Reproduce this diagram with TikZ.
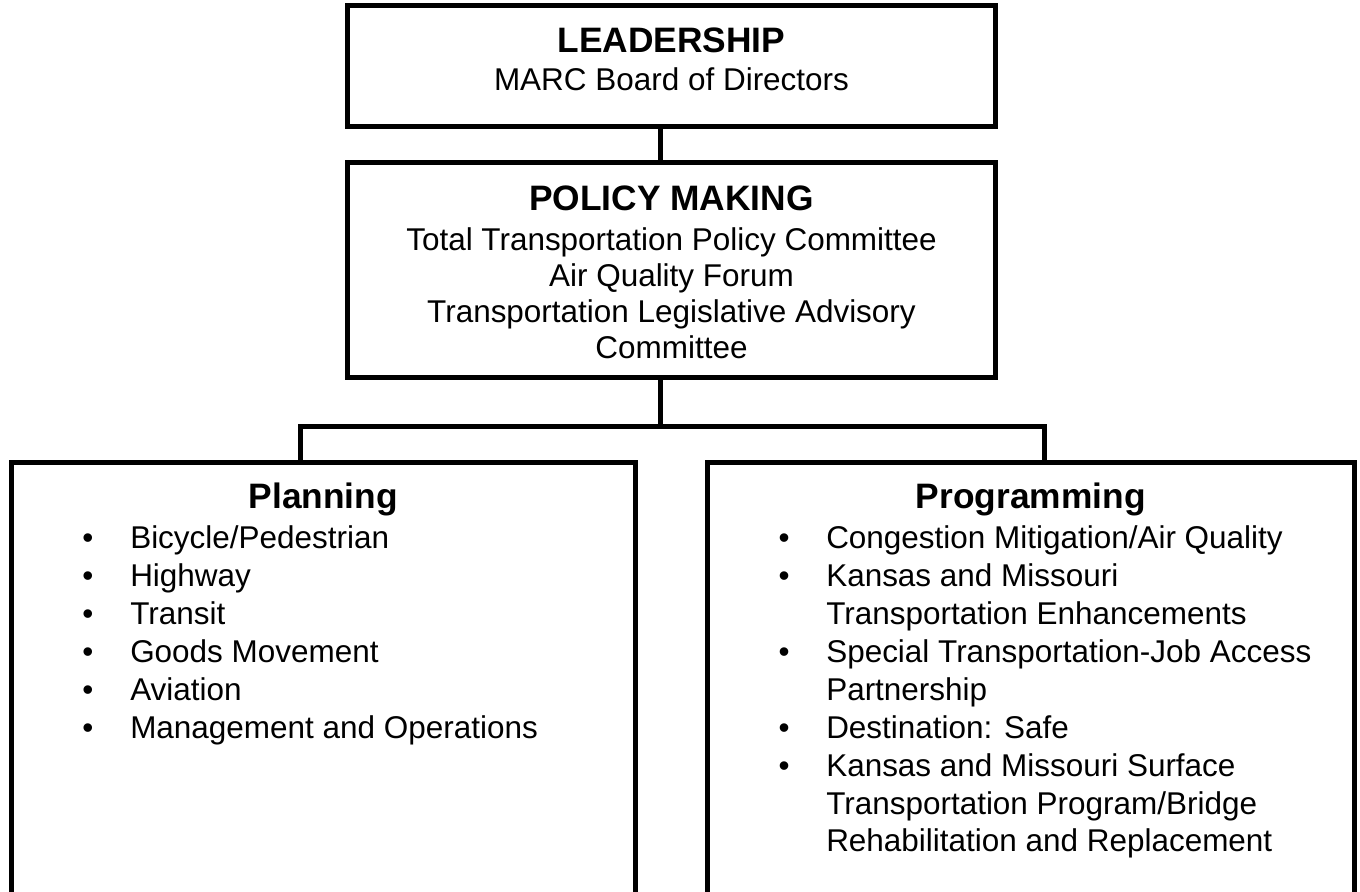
\documentclass[tikz,border=0pt]{standalone}
\usepackage{fontspec}
\setmainfont{Liberation Sans}
\begin{document}
\begin{tikzpicture}[x=0.75pt,y=-0.75pt,
  box/.style={draw=black,line width=3.75pt,rectangle,inner sep=0pt,fill=white},
  conn/.style={draw=black,line width=3.75pt,line join=miter},
  head/.style={font=\fontsize{26.5}{32}\selectfont\bfseries,anchor=base,inner sep=0pt},
  body/.style={font=\fontsize{23.6}{28}\selectfont,anchor=base,inner sep=0pt},
  item/.style={font=\fontsize{23.6}{28}\selectfont,anchor=base west,inner sep=0pt},
  bul/.style={font=\fontsize{23.6}{28}\selectfont,anchor=base,inner sep=0pt}]
\clip (0,0) rectangle (1360,892);
\fill[white] (0,0) rectangle (1360,892);

% boxes
\node[box,minimum width=486pt,minimum height=90.375pt] (lead) at (671.5,65.75) {};
\node[box,minimum width=486pt,minimum height=161.625pt] (policy) at (671.5,269.75) {};
\node[box,minimum width=467.625pt,minimum height=324pt] (plan) at (323.25,678) {};
\node[box,minimum width=484.875pt,minimum height=324pt] (prog) at (1030.75,678) {};

% connectors
\coordinate (cx) at (660,0);
\coordinate (barL) at (300,426);
\coordinate (barR) at (1044,426);
\draw[conn] (lead.south -| cx) -- (policy.north -| cx);
\draw[conn] (policy.south -| cx) -- (cx |- barL);
\draw[conn] (barL |- plan.north) -- (barL) -- (barR) -- (barR |- prog.north);

% leadership text
\node[head] (t1) at (671.5,53) {LEADERSHIP};
\node[body] (t2) at (671.5,91) {MARC Board of Directors};

% policy text
\node[head] (p0) at (671.5,210) {POLICY MAKING};
\node[body] (p1) at (671.5,250) {Total Transportation Policy Committee};
\node[body] (p2) at (671.5,286) {Air Quality Forum};
\node[body] (p3) at (671.5,322) {Transportation Legislative Advisory};
\node[body] (p4) at (671.5,358) {Committee};

% planning
\node[head] (h1) at (323.25,508) {Planning};
\foreach \i/\t in {0/Bicycle\slash Pedestrian,1/Highway,2/Transit,3/Goods Movement,4/Aviation,5/Management and Operations}{
  \node[bul] (lb\i) at (88,548+38*\i) {•};
  \node[item] (li\i) at (130,548+38*\i) {\t};
}

% programming
\node[head] (h2) at (1030.75,508) {Programming};
\node[bul] (rb0) at (784,548) {•};
\node[item] (ri0) at (826,548) {Congestion Mitigation/Air Quality};
\node[bul] (rb1) at (784,586) {•};
\node[item] (ri1) at (826,586) {Kansas and Missouri};
\node[item] (ri1b) at (826,624) {Transportation Enhancements};
\node[bul] (rb2) at (784,662) {•};
\node[item] (ri2) at (826,662) {Special Transportation-Job Access};
\node[item] (ri2b) at (826,700) {Partnership};
\node[bul] (rb3) at (784,738) {•};
\node[item] (ri3) at (826,738) {Destination: Safe};
\node[bul] (rb4) at (784,776) {•};
\node[item] (ri4) at (826,776) {Kansas and Missouri Surface};
\node[item] (ri4b) at (826,814) {Transportation Program/Bridge};
\node[item] (ri4c) at (826,851) {Rehabilitation and Replacement};
\end{tikzpicture}
\end{document}
